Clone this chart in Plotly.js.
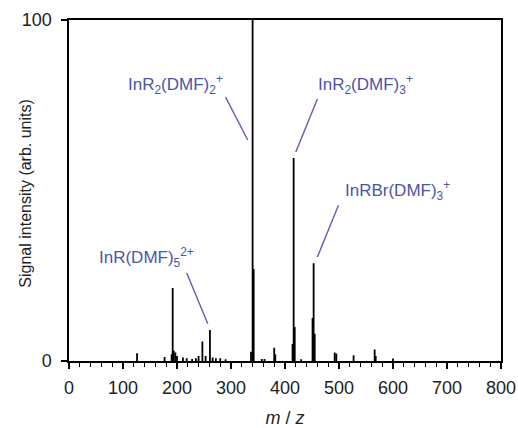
<!DOCTYPE html>
<html>
<head>
<meta charset="utf-8">
<script src="https://cdn.plot.ly/plotly-3.0.1.min.js"></script>
<style>html,body{margin:0;padding:0;background:#fff;}#chart{width:518px;height:428px;}</style>
</head>
<body>
<div id="chart"></div>
<script>
// Stick spectrum: m/z positions and relative intensities
const peakMz = [126, 177, 190, 192, 194, 197, 200, 211, 218, 228, 235, 240, 247, 253, 261, 266, 272, 280, 290,
                337, 340, 342, 357, 362, 380, 382, 414, 416, 418, 430, 451, 453, 455, 492, 495, 527, 566, 568, 600];
const peakInt = [2.3, 1.2, 2.0, 21.4, 3.0, 2.5, 1.5, 1.0, 0.8, 0.6, 0.8, 1.5, 5.7, 1.5, 9.1, 1.0, 0.8, 0.8, 0.5,
                 2.7, 100, 27, 0.6, 0.6, 3.9, 2.0, 5.0, 59.5, 10, 0.5, 12.6, 28.7, 8.0, 2.5, 2.2, 1.7, 3.4, 1.5, 0.7];

// Axis tick labels
const xTicks = [0, 100, 200, 300, 400, 500, 600, 700, 800];
const yTicks = [0, 100];

// Peak labels (text, text position, leader line start/end in data units)
const labelText = [
  'InR<sub>2</sub>(DMF)<sub>2</sub><sup>+</sup>',
  'InR<sub>2</sub>(DMF)<sub>3</sub><sup>+</sup>',
  'InRBr(DMF)<sub>3</sub><sup>+</sup>',
  'InR(DMF)<sub>5</sub><sup>2+</sup>'
];
const labelX = [198, 549, 608, 144];
const labelY = [81, 81, 50, 30.5];
const lineX0 = [290, 460, 499, 218];
const lineY0 = [77.4, 76.8, 45.7, 25.8];
const lineX1 = [331, 420, 460, 257];
const lineY1 = [64.8, 61.3, 30.5, 10.9];

const xs = [], ys = [];
for (let i = 0; i < peakMz.length; i++) {
  xs.push(peakMz[i], peakMz[i], peakMz[i], null);
  ys.push(0, peakInt[i], 0, null);
}

const trace = {
  x: xs, y: ys, type: 'scatter', mode: 'lines',
  line: {color: '#000', width: 1.8},
  hoverinfo: 'skip', showlegend: false, connectgaps: false
};

const FONT = 'Liberation Sans, Arial, Helvetica, sans-serif';
const blue = '#4b55a8';
const annotations = labelText.map((t, i) => ({
  x: labelX[i], y: labelY[i], xref: 'x', yref: 'y', text: t, showarrow: false,
  font: {family: FONT, size: 17, color: blue}
}));
annotations.push({
  xref: 'paper', yref: 'paper', x: -0.1, y: 0.493, xanchor: 'center', yanchor: 'middle',
  text: 'Signal intensity (arb. units)', textangle: -90, showarrow: false,
  font: {family: FONT, size: 16, color: '#222'}
});
const shapes = labelText.map((t, i) => ({
  type: 'line', xref: 'x', yref: 'y',
  x0: lineX0[i], y0: lineY0[i], x1: lineX1[i], y1: lineY1[i],
  line: {color: '#5a60b4', width: 1.4}
}));

const layout = {
  width: 518, height: 428,
  margin: {l: 69, r: 17, t: 20, b: 67},
  paper_bgcolor: '#fff', plot_bgcolor: '#fff',
  font: {family: FONT, color: '#222', size: 18},
  xaxis: {
    range: [0, 800], tickvals: xTicks, ticktext: xTicks.map(String),
    ticks: 'outside', ticklen: 6, tickwidth: 1.5, tickcolor: '#000',
    minor: {dtick: 20, ticks: 'outside', ticklen: 4, tickwidth: 1.2, tickcolor: '#000'},
    showline: true, linecolor: '#000', linewidth: 1.6, mirror: true,
    showgrid: false, zeroline: false, ticklabelstandoff: 4,
    tickfont: {size: 18, color: '#222'},
    title: {text: '<i>m</i> / <i>z</i>', font: {size: 18, color: '#222'}, standoff: 18}
  },
  yaxis: {
    range: [0, 100], tickvals: yTicks, ticktext: yTicks.map(String),
    ticks: 'outside', ticklen: 6, tickwidth: 1.5, tickcolor: '#000',
    showline: true, linecolor: '#000', linewidth: 1.6, mirror: true,
    showgrid: false, zeroline: false, ticklabelstandoff: 6,
    tickfont: {size: 18, color: '#222'}
  },
  annotations: annotations,
  shapes: shapes
};

Plotly.newPlot('chart', [trace], layout, {staticPlot: true, displayModeBar: false});
</script>
</body>
</html>
